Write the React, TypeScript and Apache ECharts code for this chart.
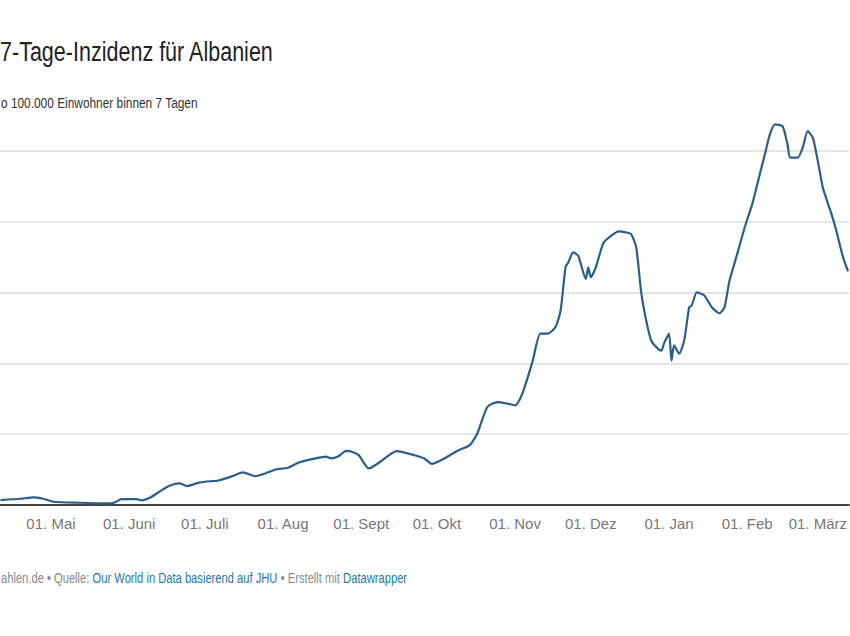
import React, { useEffect, useRef } from "react";
import * as echarts from "echarts";

const titleText = "7-Tage-Inzidenz für Albanien";
const subtitleText = "o 100.000 Einwohner binnen 7 Tagen";
const footerPlain1 = "ahlen.de • Quelle: ";
const footerLink1 = "Our World in Data basierend auf JHU";
const footerPlain2 = " • Erstellt mit ";
const footerLink2 = "Datawrapper";

const tickDates = [
  "2020-05-01", "2020-06-01", "2020-07-01", "2020-08-01", "2020-09-01", "2020-10-01",
  "2020-11-01", "2020-12-01", "2021-01-01", "2021-02-01", "2021-03-01",
];
const tickLabels = [
  "01. Mai", "01. Juni", "01. Juli", "01. Aug", "01. Sept", "01. Okt",
  "01. Nov", "01. Dez", "01. Jan", "01. Feb", "01. März",
];

const dates = [
  "2020-04-11", "2020-04-19", "2020-04-24", "2020-04-28", "2020-05-02", "2020-05-12",
  "2020-05-23", "2020-05-26", "2020-05-29", "2020-06-04", "2020-06-06", "2020-06-09",
  "2020-06-13", "2020-06-17", "2020-06-21", "2020-06-24", "2020-06-29", "2020-07-04",
  "2020-07-06", "2020-07-12", "2020-07-16", "2020-07-21", "2020-07-25", "2020-07-29",
  "2020-08-03", "2020-08-07", "2020-08-12", "2020-08-18", "2020-08-20", "2020-08-23",
  "2020-08-26", "2020-08-28", "2020-08-31", "2020-09-04", "2020-09-08", "2020-09-15",
  "2020-09-17", "2020-09-22", "2020-09-26", "2020-09-29", "2020-10-04", "2020-10-09",
  "2020-10-14", "2020-10-17", "2020-10-21", "2020-10-25", "2020-10-29", "2020-11-01",
  "2020-11-03", "2020-11-05", "2020-11-08", "2020-11-11", "2020-11-14", "2020-11-17",
  "2020-11-19", "2020-11-21", "2020-11-22", "2020-11-24", "2020-11-26", "2020-11-29",
  "2020-11-30", "2020-12-01", "2020-12-03", "2020-12-06", "2020-12-09", "2020-12-12",
  "2020-12-15", "2020-12-17", "2020-12-19", "2020-12-21", "2020-12-23", "2020-12-25",
  "2020-12-27", "2020-12-29", "2020-12-30", "2021-01-01", "2021-01-02", "2021-01-03",
  "2021-01-05", "2021-01-07", "2021-01-09", "2021-01-10", "2021-01-12", "2021-01-15",
  "2021-01-18", "2021-01-21", "2021-01-23", "2021-01-25", "2021-01-28", "2021-01-31",
  "2021-02-03", "2021-02-05", "2021-02-08", "2021-02-10", "2021-02-12", "2021-02-15",
  "2021-02-17", "2021-02-18", "2021-02-21", "2021-02-23", "2021-02-25", "2021-02-27",
  "2021-03-01", "2021-03-03", "2021-03-06", "2021-03-08", "2021-03-11", "2021-03-13",
];
const values = [
  3.5, 4.4, 5.4, 4.4, 2.3, 1.6,
  1.2, 1.6, 4.2, 4.2, 3.3, 4.9,
  9.4, 13.6, 15.3, 13.4, 16, 16.9,
  17.1, 20.4, 23, 20.4, 22.3, 25.1,
  26.3, 29.8, 32.2, 34.1, 32.9, 34.5,
  38.2, 37.8, 35.2, 25.8, 29.8, 38,
  37.5, 35.2, 32.9, 29, 32.9, 38.2,
  42.3, 50.5, 69.2, 72.7, 71.6, 70.4,
  75.1, 84.5, 102, 121, 121, 125.6,
  137, 168, 171, 178.4, 176, 159.6,
  167.8, 160.8, 168, 185, 190, 193.2,
  192.5, 191.3, 182, 150, 130, 116,
  111.5, 109, 114, 121, 102, 112.7,
  106.8, 116, 139.6, 140.8, 150.2, 147.9,
  139.6, 135.4, 139.6, 158.5, 177, 196,
  212.5, 226.5, 247.7, 261.8, 268.8, 267.6,
  254.7, 245.3, 245.3, 252.3, 264, 259.4,
  243, 224, 207.7, 196, 174.9, 165,
];

const FONT = '"Liberation Sans", Arial, sans-serif';

function measure(text: string, size: number): number {
  const ctx = document.createElement("canvas").getContext("2d");
  if (!ctx) return text.length * size * 0.5;
  ctx.font = `${size}px ${FONT}`;
  return ctx.measureText(text).width;
}

export default function App() {
  const ref = useRef<HTMLDivElement>(null);
  useEffect(() => {
    if (!ref.current) return;
    const chart = echarts.init(ref.current, null, { renderer: "svg" });

    const day = 86400000;
    const toDay = (s: string) => {
      const [y, m, d] = s.split("-").map(Number);
      return Date.UTC(y, m - 1, d) / day;
    };
    const tickDays = tickDates.map(toDay);
    const xMin = tickDays[0] - 20.2;
    const xMax = tickDays[0] + 316.3;

    const titleSize = 28;
    const titleScale = 274 / measure(titleText, titleSize);
    const subSize = 15;
    const subScale = 197 / measure(subtitleText, subSize);
    const footSize = 14;
    const footFull = footerPlain1 + footerLink1 + footerPlain2 + footerLink2;
    const footScale = 406 / measure(footFull, footSize);

    chart.setOption({
      animation: false,
      backgroundColor: "#ffffff",
      grid: { left: 0, right: 0, top: 151, bottom: 131, containLabel: false },
      xAxis: {
        type: "value",
        min: xMin,
        max: xMax,
        axisLine: { show: true, lineStyle: { color: "#444", width: 2 } },
        axisTick: { show: false },
        splitLine: { show: false },
        axisLabel: {
          customValues: tickDays,
          formatter: (v: number) => {
            const i = tickDays.findIndex((t) => Math.abs(t - v) < 0.5);
            return i >= 0 ? tickLabels[i] : "";
          },
          color: "#777",
          fontSize: 15,
          fontFamily: FONT,
          margin: 11,
          hideOverlap: false,
        },
      },
      yAxis: {
        type: "value",
        min: 0,
        max: 250,
        interval: 50,
        axisLabel: { show: false },
        axisLine: { show: false },
        axisTick: { show: false },
        splitLine: { lineStyle: { color: "#dcdcdc", width: 1.5 } },
      },
      series: [
        {
          type: "line",
          data: dates.map((d, i) => [toDay(d), values[i]]),
          showSymbol: false,
          clip: false,
          smooth: 0.2,
          lineStyle: { color: "#2b5e8b", width: 2.2 },
        },
      ],
      graphic: [
        {
          type: "text",
          x: 0,
          y: 51,
          scaleX: titleScale,
          style: {
            text: titleText,
            fontSize: titleSize,
            fontFamily: FONT,
            fill: "#222",
            verticalAlign: "middle",
          },
        },
        {
          type: "text",
          x: 1,
          y: 103,
          scaleX: subScale,
          style: {
            text: subtitleText,
            fontSize: subSize,
            fontFamily: FONT,
            fill: "#333",
            verticalAlign: "middle",
          },
        },
        {
          type: "text",
          x: 1,
          y: 579,
          scaleX: footScale,
          style: {
            text:
              "{g|" + footerPlain1 + "}{l|" + footerLink1 + "}{g|" + footerPlain2 + "}{l|" + footerLink2 + "}",
            fontSize: footSize,
            fontFamily: FONT,
            verticalAlign: "middle",
            rich: {
              g: { fill: "#8a8a8a", fontSize: footSize, fontFamily: FONT },
              l: { fill: "#1f78a8", fontSize: footSize, fontFamily: FONT },
            },
          },
        },
      ],
    });
    return () => chart.dispose();
  }, []);
  return (
    <div
      ref={ref}
      style={{ position: "absolute", left: 0, top: 0, width: 850, height: 636 }}
    />
  );
}
